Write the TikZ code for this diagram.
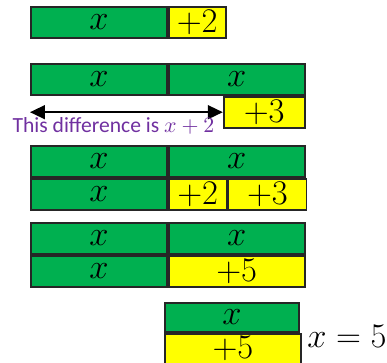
\documentclass[tikz,border=0pt]{standalone}
\usepackage{fontspec}
\usetikzlibrary{arrows.meta,positioning}
\newfontfamily\calibri{Carlito}
\definecolor{barGreen}{RGB}{0,176,80}
\definecolor{barYellow}{RGB}{255,255,0}
\definecolor{notePurple}{RGB}{112,48,160}
\tikzset{
  bar/.style  ={draw=black!85, line width=0.9pt, inner sep=0pt, minimum height=15.5pt, font=\fontsize{17}{20}\selectfont},
  xbar/.style ={bar, fill=barGreen, minimum width=68pt},
  cbar/.style ={bar, fill=barYellow},
  diff/.style ={{Triangle[length=7.5pt,width=7pt]}-{Triangle[length=7.5pt,width=7pt]}, line width=0.75pt},
  note/.style ={font=\calibri\fontsize{10.8}{13}\selectfont, text=notePurple, inner sep=0pt}
}

\begin{document}
\begin{tikzpicture}[x=0.5pt, y=-0.5pt]
  \useasboundingbox (0,0) rectangle (387,363);
  \node[xbar, anchor=north west] (g1) at (30,6) {$x$};
  \node[cbar, minimum width=28.5pt, right=0pt of g1] (c1) {$+2$};

  \node[xbar, anchor=north west] (g2a) at (30,63) {$x$};
  \node[xbar, right=0pt of g2a] (g2b) {$x$};
  \node[cbar, minimum width=40.5pt, anchor=north east] (c2) at (g2b.south east) {$+3$};
  \coordinate (d2) at (g2a.south west |- c2.west);
  \draw[diff] (d2) -- (c2.west);
  \node[note] (n2) at (113.5,126) {This difference is $x+2$};

  \node[xbar, anchor=north west] (g3a) at (30,145) {$x$};
  \node[xbar, right=0pt of g3a] (g3b) {$x$};
  \node[xbar, below=0pt of g3a] (g3c) {$x$};
  \node[cbar, minimum width=29pt, right=0pt of g3c] (c3a) {$+2$};
  \node[cbar, minimum width=39pt, right=0pt of c3a] (c3b) {$+3$};

  \node[xbar, anchor=north west] (g4a) at (30,222) {$x$};
  \node[xbar, right=0pt of g4a] (g4b) {$x$};
  \node[xbar, below=0pt of g4a] (g4c) {$x$};
  \node[cbar, minimum width=68pt, right=0pt of g4c] (c4) {$+5$};

  \node[xbar, minimum width=67pt, minimum height=14.5pt, anchor=north west] (g5) at (164,302) {$x$};
  \node[cbar, minimum width=68pt, minimum height=15pt, anchor=north west] (c5) at (g5.south west) {$+5$};
  \node[anchor=west, inner sep=0pt, font=\fontsize{16}{19}\selectfont] (ans) at (307,336) {$x = 5$};
\end{tikzpicture}
\end{document}
